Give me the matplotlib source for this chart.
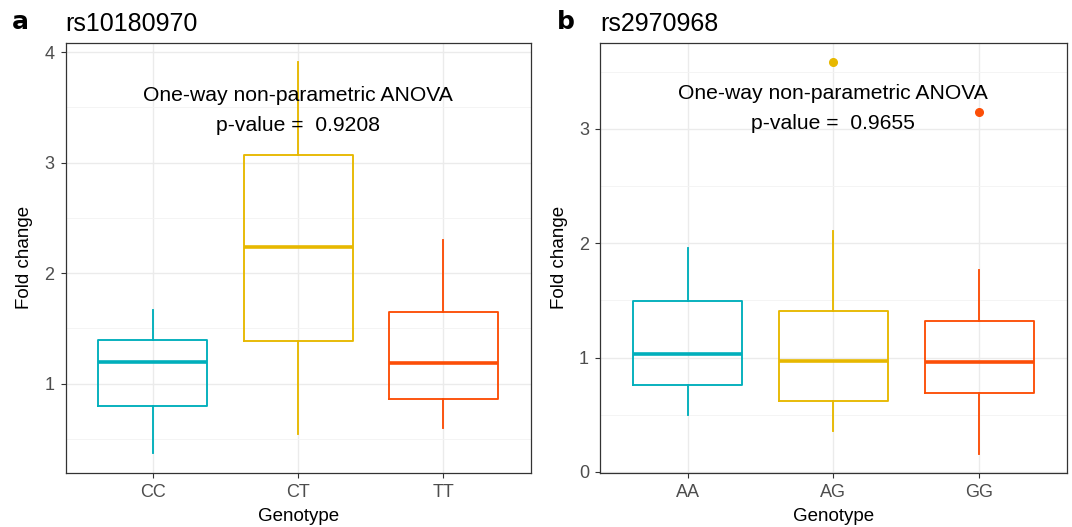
import matplotlib
matplotlib.use("Agg")
import matplotlib.pyplot as plt
import numpy as np

plt.rcParams['font.family'] = ['Liberation Sans', 'DejaVu Sans']

# ---- data ----
colors = ["#00AFBB", "#E7B800", "#FC4E07"]

a_title = "rs10180970"
a_genotypes = ["CC", "CT", "TT"]
a_whislo = [0.373, 0.542, 0.603]
a_q1 = [0.803, 1.387, 0.858]
a_med = [1.196, 2.233, 1.192]
a_q3 = [1.396, 3.072, 1.652]
a_whishi = [1.669, 3.909, 2.302]
a_fliers = [[], [], []]
a_pvalue = "0.9208"

b_title = "rs2970968"
b_genotypes = ["AA", "AG", "GG"]
b_whislo = [0.496, 0.356, 0.156]
b_q1 = [0.761, 0.624, 0.691]
b_med = [1.030, 0.974, 0.962]
b_q3 = [1.496, 1.408, 1.324]
b_whishi = [1.956, 2.107, 1.764]
b_fliers = [[], [3.585], [3.147]]
b_pvalue = "0.9655"

W, H = 1072, 527
fig = plt.figure(figsize=(W / 100, H / 100), dpi=100)

def px_rect(l, t, r, b):
    return [l / W, 1 - b / H, (r - l) / W, (b - t) / H]

axA = fig.add_axes(px_rect(65.5, 42.5, 530.7, 472.7))
axB = fig.add_axes(px_rect(600, 42.5, 1066.7, 472.7))

def draw(ax, genotypes, wl, q1, med, q3, wh, fl, yticks, yminor, ylim, text_y, pval, title):
    stats = []
    for i in range(len(genotypes)):
        stats.append(dict(whislo=wl[i], q1=q1[i], med=med[i], q3=q3[i], whishi=wh[i],
                          fliers=fl[i], label=genotypes[i]))
    pos = np.arange(1, len(genotypes) + 1)
    for i, s in enumerate(stats):
        c = colors[i]
        ax.bxp([s], positions=[pos[i]], widths=0.75, showcaps=False, patch_artist=False,
               boxprops=dict(color=c, linewidth=1.35),
               whiskerprops=dict(color=c, linewidth=1.35),
               medianprops=dict(color=c, linewidth=2.6, solid_capstyle='butt'),
               flierprops=dict(marker='o', markerfacecolor=c, markeredgecolor=c,
                               markersize=5.5, linestyle='none'),
               zorder=3)
    ax.set_xlim(0.4, len(genotypes) + 0.6)
    ax.set_ylim(*ylim)
    ax.set_xticks(pos)
    ax.set_xticklabels(genotypes)
    ax.set_yticks(yticks)
    ax.set_yticklabels([str(t) for t in yticks])
    ax.set_yticks(yminor, minor=True)
    ax.grid(True, which='major', color='#EBEBEB', linewidth=1.0, zorder=0)
    ax.grid(True, which='minor', axis='y', color='#F3F3F3', linewidth=0.6, zorder=0)
    ax.set_axisbelow(True)
    ax.tick_params(axis='both', which='major', length=3.4, width=0.8, color='#333333',
                   labelsize=13, labelcolor='#4D4D4D', pad=4.5)
    ax.tick_params(axis='both', which='minor', length=0)
    for sp in ax.spines.values():
        sp.set_color('#333333')
        sp.set_linewidth(0.9)
    ax.set_xlabel("Genotype", fontsize=13.5, labelpad=5)
    ax.set_ylabel("Fold change", fontsize=13.5, labelpad=8)
    ax.text(2, text_y, "One-way non-parametric ANOVA\np-value =  " + pval,
            ha='center', va='center', fontsize=15.2, linespacing=1.75, zorder=5)
    ax.set_title(title, loc='left', fontsize=18, pad=8)

draw(axA, a_genotypes, a_whislo, a_q1, a_med, a_q3, a_whishi, a_fliers,
     [1, 2, 3, 4], [0.5, 1.5, 2.5, 3.5], (0.196, 4.086), 3.47, a_pvalue, a_title)
draw(axB, b_genotypes, b_whislo, b_q1, b_med, b_q3, b_whishi, b_fliers,
     [0, 1, 2, 3], [0.5, 1.5, 2.5, 3.5], (-0.007, 3.756), 3.18, b_pvalue, b_title)

fig.text(12 / W, 1 - 22 / H, "a", fontsize=18, fontweight='bold', family='DejaVu Sans',
         ha='left', va='center')
fig.text(557 / W, 1 - 22 / H, "b", fontsize=18, fontweight='bold', family='DejaVu Sans',
         ha='left', va='center')

fig.savefig("out.png", dpi=100)
